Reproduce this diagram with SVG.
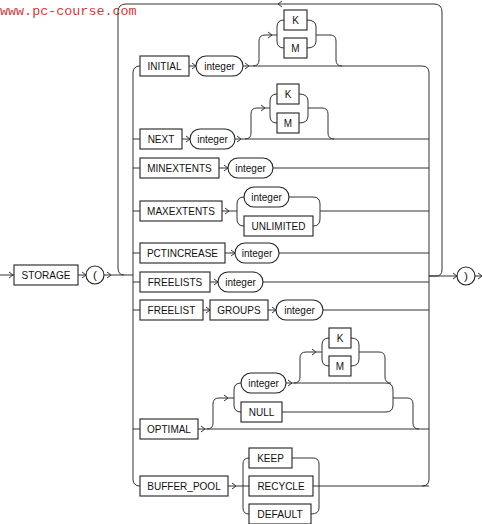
<svg xmlns="http://www.w3.org/2000/svg" xmlns:xlink="http://www.w3.org/1999/xlink" width="482" height="524" viewBox="0 0 482 524">
<defs>
<style>
.b{fill:#fff;stroke:#222;stroke-width:1.1}
.l{fill:none;stroke:#333;stroke-width:1}
.t{font-family:"Liberation Sans",Arial,sans-serif;font-size:11.6px;fill:#111;text-anchor:middle;dominant-baseline:central;transform:translateY(-1px)}
.wm{font-family:"Liberation Mono","Courier New",monospace;font-size:13.4px;fill:#d03a3a}
</style>
<path id="ar" d="M-4,-3 L0,0 L-4,3" fill="none" stroke="#333" stroke-width="1"/>
</defs>
<rect width="482" height="524" fill="#fff"/>
<text class="wm" x="0" y="15">www.pc-course.com</text>

<g id="connectors">
<path class="l" d="M0,275 L14,275 M78,275 L86,275 M104,275 L133,275"/>
<path class="l" d="M429,276 L436,276 Q442,276 442,270 L442,12 Q442,4 434,4 L126,4 Q118,4 118,12 L118,268 Q118,275 124,275"/>
<path class="l" d="M429,276 L457,276 M475,276 L482,276"/>
<path class="l" d="M140,66 Q133,66 133,73 L133,479 Q133,486 140,486"/>
<path class="l" d="M133,139 L140,139 M133,168 L140,168 M133,211 L140,211 M133,253 L140,253 M133,282 L140,282 M133,310 L140,310 M133,429 L140,429"/>
<path class="l" d="M243,66 L422,66 Q429,66 429,73 L429,479 Q429,486 422,486"/>
<path class="l" d="M189,66 L196,66"/>
<path class="l" d="M253,66 Q259,66 259,60 L259,41 Q259,35 265,35 L277,35"/>
<path class="l" d="M284,20 Q277,20 277,27 L277,41 Q277,48 284,48"/>
<path class="l" d="M307,20 Q316,20 316,27 L316,41 Q316,48 307,48 M316,35 L330,35 Q336,35 336,41 L336,60 Q336,66 342,66"/>
<path class="l" d="M182,139 L190,139 M235,139 L429,139"/>
<path class="l" d="M245,139 Q251,139 251,133 L251,114 Q251,108 257,108 L270,108"/>
<path class="l" d="M277,94 Q270,94 270,101 L270,116 Q270,123 277,123"/>
<path class="l" d="M299,94 Q308,94 308,101 L308,116 Q308,123 299,123 M308,108 L322,108 Q328,108 328,114 L328,133 Q328,139 334,139"/>
<path class="l" d="M219,168 L228,168 M273,168 L429,168"/>
<path class="l" d="M222,211 L237,211"/>
<path class="l" d="M244,197 Q237,197 237,204 L237,219 Q237,226 244,226"/>
<path class="l" d="M289,197 L313,197 Q320,197 320,204 L320,219 Q320,226 313,226 M320,211 L429,211"/>
<path class="l" d="M225,253 L235,253 M279,253 L429,253"/>
<path class="l" d="M210,282 L218,282 M263,282 L429,282"/>
<path class="l" d="M203,310 L210,310 M268,310 L276,310 M323,310 L429,310"/>
<path class="l" d="M198,429 L429,429"/>
<path class="l" d="M207,429 Q213,429 213,423 L213,404 Q213,398 219,398 L234,398"/>
<path class="l" d="M241,383 Q234,383 234,390 L234,405 Q234,412 241,412"/>
<path class="l" d="M286,383 L386,383 Q393,383 393,390 L393,405 Q393,412 386,412 L282,412 M393,398 L407,398 Q413,398 413,404 L413,423 Q413,429 419,429"/>
<path class="l" d="M294,383 Q300,383 300,377 L300,358 Q300,352 306,352 L322,352"/>
<path class="l" d="M329,338 Q322,338 322,345 L322,359 Q322,366 329,366"/>
<path class="l" d="M351,338 Q359,338 359,345 L359,359 Q359,366 351,366 M359,352 L379,352 Q385,352 385,358 L385,377 Q385,383 391,383"/>
<path class="l" d="M228,486 L249,486"/>
<path class="l" d="M249,458 Q243,458 243,464 L243,508 Q243,514 249,514"/>
<path class="l" d="M292,458 L313,458 Q319,458 319,464 L319,508 Q319,514 311,514 M313,486 L429,486"/>
<use xlink:href="#ar" x="13" y="275"/>
<use xlink:href="#ar" x="86" y="275"/>
<use xlink:href="#ar" x="111" y="275"/>
<use xlink:href="#ar" x="457" y="276"/>
<use xlink:href="#ar" x="482" y="276"/>
<use xlink:href="#ar" transform="translate(278,4) rotate(180)"/>
<use xlink:href="#ar" x="196" y="66"/>
<use xlink:href="#ar" x="249" y="66"/>
<use xlink:href="#ar" x="272" y="35"/>
<use xlink:href="#ar" x="190" y="139"/>
<use xlink:href="#ar" x="241" y="139"/>
<use xlink:href="#ar" x="265" y="108"/>
<use xlink:href="#ar" x="228" y="168"/>
<use xlink:href="#ar" x="229" y="211"/>
<use xlink:href="#ar" x="235" y="253"/>
<use xlink:href="#ar" x="218" y="282"/>
<use xlink:href="#ar" x="210" y="310"/>
<use xlink:href="#ar" x="276" y="310"/>
<use xlink:href="#ar" x="205" y="429"/>
<use xlink:href="#ar" x="228" y="398"/>
<use xlink:href="#ar" x="292" y="383"/>
<use xlink:href="#ar" x="316" y="352"/>
<use xlink:href="#ar" x="236" y="486"/>
</g>

<g id="n-storage"><rect class="b" x="14" y="265" width="64" height="20"/><text class="t" x="46" y="275" textLength="48.9" lengthAdjust="spacingAndGlyphs">STORAGE</text></g>
<g id="n-lparen"><circle class="b" cx="95" cy="275" r="9"/><text class="t" x="95" y="275">(</text></g>
<g id="n-rparen"><circle class="b" cx="466" cy="276" r="9"/><text class="t" x="466" y="276">)</text></g>

<g id="n-initial"><rect class="b" x="140" y="56" width="49" height="20"/><text class="t" x="164.5" y="66" textLength="33.9" lengthAdjust="spacingAndGlyphs">INITIAL</text></g>
<g id="n-initial-int"><rect class="b" x="196" y="56" width="47" height="20" rx="10"/><text class="t" x="219.5" y="66" textLength="30.6" lengthAdjust="spacingAndGlyphs">integer</text></g>
<g id="n-initial-k"><rect class="b" x="284" y="10" width="23" height="20"/><text class="t" x="295.5" y="20" textLength="6.7" lengthAdjust="spacingAndGlyphs">K</text></g>
<g id="n-initial-m"><rect class="b" x="284" y="38" width="23" height="20"/><text class="t" x="295.5" y="48" textLength="8.3" lengthAdjust="spacingAndGlyphs">M</text></g>

<g id="n-next"><rect class="b" x="140" y="129" width="42" height="20"/><text class="t" x="161" y="139" textLength="26.7" lengthAdjust="spacingAndGlyphs">NEXT</text></g>
<g id="n-next-int"><rect class="b" x="190" y="129" width="45" height="20" rx="10"/><text class="t" x="212.5" y="139" textLength="30.6" lengthAdjust="spacingAndGlyphs">integer</text></g>
<g id="n-next-k"><rect class="b" x="277" y="84" width="22" height="20"/><text class="t" x="288" y="94" textLength="6.7" lengthAdjust="spacingAndGlyphs">K</text></g>
<g id="n-next-m"><rect class="b" x="277" y="113" width="22" height="20"/><text class="t" x="288" y="123" textLength="8.3" lengthAdjust="spacingAndGlyphs">M</text></g>

<g id="n-minext"><rect class="b" x="140" y="158" width="79" height="20"/><text class="t" x="179.5" y="168" textLength="64.5" lengthAdjust="spacingAndGlyphs">MINEXTENTS</text></g>
<g id="n-minext-int"><rect class="b" x="228" y="158" width="45" height="20" rx="10"/><text class="t" x="250.5" y="168" textLength="30.6" lengthAdjust="spacingAndGlyphs">integer</text></g>

<g id="n-maxext"><rect class="b" x="140" y="201" width="82" height="20"/><text class="t" x="181" y="211" textLength="67.8" lengthAdjust="spacingAndGlyphs">MAXEXTENTS</text></g>
<g id="n-maxext-int"><rect class="b" x="244" y="187" width="45" height="20" rx="10"/><text class="t" x="266.5" y="197" textLength="30.6" lengthAdjust="spacingAndGlyphs">integer</text></g>
<g id="n-unlimited"><rect class="b" x="244" y="216" width="69" height="20"/><text class="t" x="278.5" y="226" textLength="53.9" lengthAdjust="spacingAndGlyphs">UNLIMITED</text></g>

<g id="n-pctinc"><rect class="b" x="140" y="243" width="85" height="20"/><text class="t" x="182.5" y="253" textLength="71.1" lengthAdjust="spacingAndGlyphs">PCTINCREASE</text></g>
<g id="n-pctinc-int"><rect class="b" x="235" y="243" width="44" height="20" rx="10"/><text class="t" x="257" y="253" textLength="30.6" lengthAdjust="spacingAndGlyphs">integer</text></g>

<g id="n-freelists"><rect class="b" x="140" y="272" width="70" height="20"/><text class="t" x="175" y="282" textLength="54.5" lengthAdjust="spacingAndGlyphs">FREELISTS</text></g>
<g id="n-freelists-int"><rect class="b" x="218" y="272" width="45" height="20" rx="10"/><text class="t" x="240.5" y="282" textLength="30.6" lengthAdjust="spacingAndGlyphs">integer</text></g>

<g id="n-freelist"><rect class="b" x="140" y="300" width="63" height="20"/><text class="t" x="171.5" y="310" textLength="47.8" lengthAdjust="spacingAndGlyphs">FREELIST</text></g>
<g id="n-groups"><rect class="b" x="210" y="300" width="58" height="20"/><text class="t" x="239" y="310" textLength="43.3" lengthAdjust="spacingAndGlyphs">GROUPS</text></g>
<g id="n-groups-int"><rect class="b" x="276" y="300" width="47" height="20" rx="10"/><text class="t" x="299.5" y="310" textLength="30.6" lengthAdjust="spacingAndGlyphs">integer</text></g>

<g id="n-optimal"><rect class="b" x="140" y="419" width="58" height="20"/><text class="t" x="169" y="429" textLength="43.9" lengthAdjust="spacingAndGlyphs">OPTIMAL</text></g>
<g id="n-optimal-int"><rect class="b" x="241" y="373" width="45" height="20" rx="10"/><text class="t" x="263.5" y="383" textLength="30.6" lengthAdjust="spacingAndGlyphs">integer</text></g>
<g id="n-null"><rect class="b" x="241" y="402" width="41" height="20"/><text class="t" x="261.5" y="412" textLength="25.6" lengthAdjust="spacingAndGlyphs">NULL</text></g>
<g id="n-optimal-k"><rect class="b" x="329" y="328" width="22" height="20"/><text class="t" x="340" y="338" textLength="6.7" lengthAdjust="spacingAndGlyphs">K</text></g>
<g id="n-optimal-m"><rect class="b" x="329" y="356" width="22" height="20"/><text class="t" x="340" y="366" textLength="8.3" lengthAdjust="spacingAndGlyphs">M</text></g>

<g id="n-bufpool"><rect class="b" x="140" y="476" width="88" height="20"/><text class="t" x="184" y="486" textLength="73.4" lengthAdjust="spacingAndGlyphs">BUFFER_POOL</text></g>
<g id="n-keep"><rect class="b" x="249" y="448" width="43" height="20"/><text class="t" x="270.5" y="458" textLength="26.7" lengthAdjust="spacingAndGlyphs">KEEP</text></g>
<g id="n-recycle"><rect class="b" x="249" y="476" width="64" height="20"/><text class="t" x="281" y="486" textLength="47.2" lengthAdjust="spacingAndGlyphs">RECYCLE</text></g>
<g id="n-default"><rect class="b" x="249" y="504" width="62" height="20"/><text class="t" x="280" y="514" textLength="45.6" lengthAdjust="spacingAndGlyphs">DEFAULT</text></g>
</svg>
